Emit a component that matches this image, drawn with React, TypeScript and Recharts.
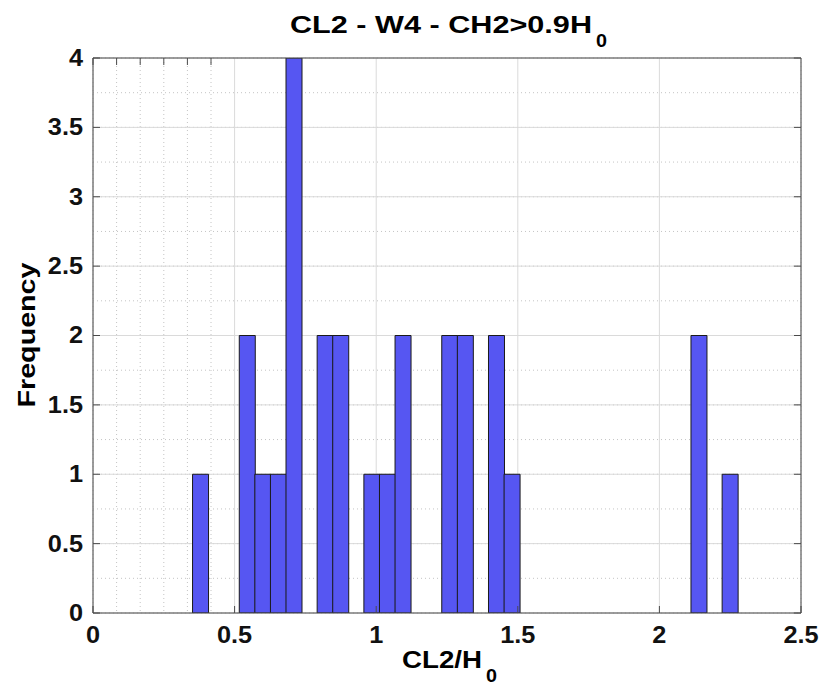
import { ComposedChart, Bar, XAxis, YAxis, CartesianGrid } from "recharts";

// histogram bins (centres of the non-empty bins, bin width ~0.055)
const binCenters = [0.379, 0.544, 0.599, 0.654, 0.709, 0.819, 0.874, 0.984, 1.039, 1.094, 1.259, 1.314, 1.424, 1.479, 2.139, 2.249];
const binCounts = [1, 2, 1, 1, 4, 2, 2, 1, 1, 2, 2, 2, 2, 1, 2, 1];

const xTicks = [0, 0.5, 1, 1.5, 2, 2.5];
const yTicks = [0, 0.5, 1, 1.5, 2, 2.5, 3, 3.5, 4];
const xMinorTicks = Array.from({ length: 51 }, (_, i) => +(i * 0.05).toFixed(2));
const yMinorTicks = Array.from({ length: 33 }, (_, i) => i * 0.125);

const title = "CL2 - W4 - CH2>0.9H";
const xLabel = "CL2/H";
const yLabel = "Frequency";

const data = binCenters.map((c, i) => ({ center: c, count: binCounts[i] }));

const FONT = "'Liberation Sans', Arial, Helvetica, sans-serif";
const BOX = "#4a4a4a";

function XTick({ x, y, payload }: any) {
  return (
    <text
      x={x}
      y={y}
      textAnchor="middle"
      fontFamily={FONT}
      fontWeight="bold"
      fontSize={23}
      fill="#111"
      transform={`translate(${x} 0) scale(1.1 1) translate(${-x} 0)`}
    >
      {payload.value}
    </text>
  );
}

function YTick({ x, y, payload }: any) {
  return (
    <text
      x={x}
      y={y + 8}
      textAnchor="end"
      fontFamily={FONT}
      fontWeight="bold"
      fontSize={23}
      fill="#111"
      transform={`translate(${x} 0) scale(1.1 1) translate(${-x} 0)`}
    >
      {payload.value}
    </text>
  );
}

export default function App() {
  return (
    <div style={{ position: "absolute", left: 0, top: 0, width: 824, height: 691, background: "#fff" }}>
      <ComposedChart
        width={824}
        height={691}
        data={data}
        margin={{ top: 57, right: 22, left: 0, bottom: 0 }}
        barCategoryGap={0}
        barGap={0}
      >
        {/* minor grid on hidden axes */}
        <XAxis xAxisId="minorX" type="number" domain={[0, 2.5]} ticks={xMinorTicks} hide allowDataOverflow />
        <YAxis yAxisId="minorY" type="number" domain={[0, 4]} ticks={yMinorTicks} hide allowDataOverflow />
        <CartesianGrid xAxisId="minorX" yAxisId="minorY" stroke="#c4c4c4" strokeDasharray="1 3" />
        <CartesianGrid stroke="#dadada" />

        <XAxis
          dataKey="center"
          type="number"
          domain={[0, 2.5]}
          ticks={xTicks}
          height={78}
          allowDataOverflow
          axisLine={{ stroke: BOX }}
          tickLine={{ stroke: BOX }}
          tickSize={-7}
          tickMargin={37}
          tick={<XTick />}
        />
        <YAxis
          type="number"
          domain={[0, 4]}
          ticks={yTicks}
          width={93}
          allowDataOverflow
          axisLine={{ stroke: BOX }}
          tickLine={{ stroke: BOX }}
          tickSize={-7}
          tickMargin={17}
          tick={<YTick />}
        />
        <XAxis
          xAxisId="top"
          orientation="top"
          type="number"
          domain={[0, 2.5]}
          ticks={xTicks}
          height={1}
          allowDataOverflow
          axisLine={{ stroke: BOX }}
          tickLine={{ stroke: BOX }}
          tickSize={-7}
          tickFormatter={() => ""}
        />
        <YAxis
          yAxisId="right"
          orientation="right"
          type="number"
          domain={[0, 4]}
          ticks={yTicks}
          width={1}
          allowDataOverflow
          axisLine={{ stroke: BOX }}
          tickLine={{ stroke: BOX }}
          tickSize={-7}
          tickFormatter={() => ""}
        />

        <Bar dataKey="count" fill="#5656f2" stroke="#1a1a1a" strokeWidth={1} isAnimationActive={false} />
      </ComposedChart>

      <svg width={824} height={691} style={{ position: "absolute", left: 0, top: 0, pointerEvents: "none" }}>
        <text fontFamily={FONT} fontWeight="bold" fill="#000">
          <tspan x={290} y={33} fontSize={23} textLength={302} lengthAdjust="spacingAndGlyphs">{title}</tspan>
          <tspan x={596} y={47} fontSize={18} textLength={11} lengthAdjust="spacingAndGlyphs">0</tspan>
        </text>
        <text fontFamily={FONT} fontWeight="bold" fill="#000">
          <tspan x={402} y={668} fontSize={23} textLength={80} lengthAdjust="spacingAndGlyphs">{xLabel}</tspan>
          <tspan x={486} y={682} fontSize={18} textLength={11} lengthAdjust="spacingAndGlyphs">0</tspan>
        </text>
        <text
          transform="translate(35 335) rotate(-90)"
          textAnchor="middle"
          fontFamily={FONT}
          fontWeight="bold"
          fontSize={23}
          fill="#000"
          textLength={145}
          lengthAdjust="spacingAndGlyphs"
        >
          {yLabel}
        </text>
      </svg>
    </div>
  );
}
